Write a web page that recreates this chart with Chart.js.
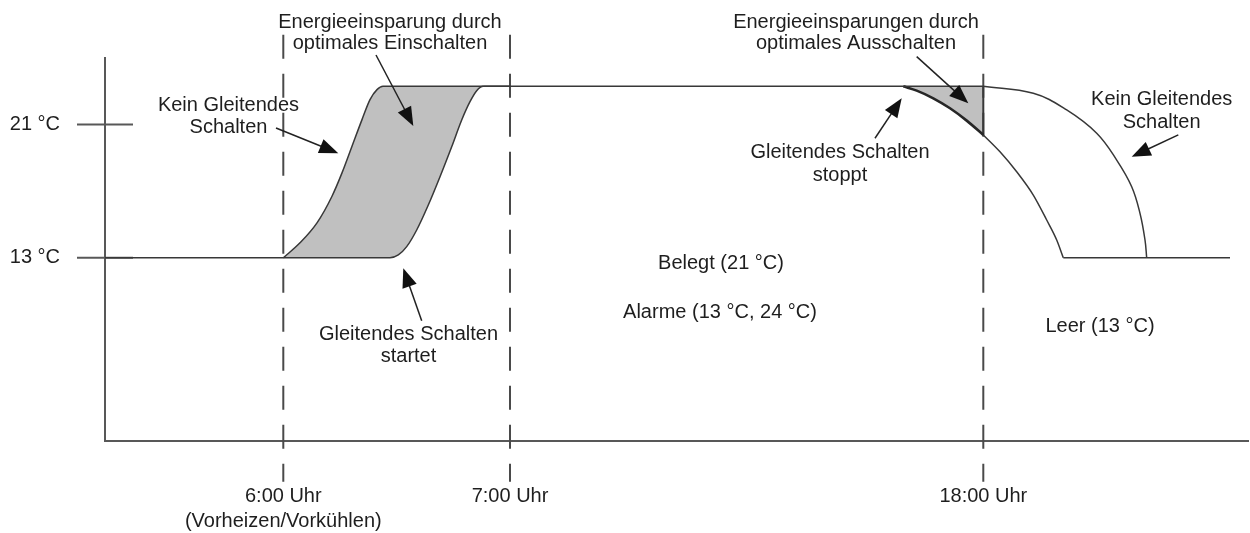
<!DOCTYPE html>
<html lang="de">
<head>
<meta charset="utf-8">
<title>Gleitendes Schalten</title>
<script src="https://cdn.jsdelivr.net/npm/chart.js@4.4.1/dist/chart.umd.min.js"></script>
<style>
  html, body { margin: 0; padding: 0; background: #fff; }
  #chart { display: block; }
</style>
</head>
<body>
<canvas id="chart" width="1250" height="533"></canvas>
<script>
// Schematic time axis: marked times and their labels
const zeitPositionen = [17.83, 40.5, 87.83];
const zeitBeschriftungen = [['6:00 Uhr', '(Vorheizen/Vorkühlen)'], '7:00 Uhr', '18:00 Uhr'];
const temperaturMarken = [13, 21];

// Temperature profiles, [time, °C]
const grundlinieLinks = [[0, 13], [17.83, 13]];
const aufheizenOhne = [[17.83, 13], [19.5, 13.9], [21.2, 15.1], [22.7, 16.7], [23.7, 18.1], [24.7, 19.7],
  [25.7, 21.3], [26.5, 22.5], [27.2, 23.1], [27.8, 23.3], [37.83, 23.3]];
const aufheizenGleitend = [[17.83, 13], [28.5, 13], [29.33, 13.17], [30.17, 13.67], [31.17, 14.67], [32.33, 16.17],
  [33.5, 17.87], [34.67, 19.67], [35.67, 21.28], [36.5, 22.38], [37.17, 23.04], [37.83, 23.3], [40.5, 23.3]];
const belegt = [[37.83, 23.3], [87.83, 23.3]];
const abkuehlenOhne = [[87.83, 23.3], [92.83, 22.88], [96.17, 21.88], [99.17, 20.48], [101.17, 18.87],
  [102.67, 17.27], [103.5, 15.67], [104.0, 14.07], [104.17, 13]];
const abschaltenGleitend = [[79.83, 23.3], [81.17, 23.04], [82.83, 22.58], [84.5, 21.98], [86.17, 21.24], [87.83, 20.38]];
const abkuehlenGleitend = [[87.83, 20.38], [89.5, 19.37], [91.17, 18.17], [92.83, 16.77], [94.17, 15.27],
  [95.17, 14.07], [95.83, 13]];
const grundlinieRechts = [[95.83, 13], [112.5, 13]];
const kante18Uhr = [[87.83, 23.3], [87.83, 20.38]];

const textFarbe = '#1e1e1e';
const linienFarbe = '#383838';
const achsenFarbe = '#585858';
const flaeche = '#c0c0c0';
const schrift = '"Liberation Sans", Arial, sans-serif';
const schriftGroesse = 20;

Chart.defaults.font.family = schrift;

const punkte = arr => arr.map(([x, y]) => ({x, y}));

function kurve(arr, extra) {
  return Object.assign({
    data: punkte(arr),
    borderColor: linienFarbe,
    borderWidth: 1.5,
    pointRadius: 0,
    fill: false,
    cubicInterpolationMode: 'monotone'
  }, extra);
}

const datasets = [
  kurve(grundlinieLinks),
  kurve(aufheizenOhne, {fill: {target: 2}, backgroundColor: flaeche}),
  kurve(aufheizenGleitend),
  kurve(belegt),
  kurve(abkuehlenOhne, {cubicInterpolationMode: 'default', tension: 0.4}),
  kurve(abschaltenGleitend, {borderWidth: 2.6, borderColor: '#262626', fill: {target: 3}, backgroundColor: flaeche}),
  kurve(abkuehlenGleitend),
  kurve(grundlinieRechts),
  kurve(kante18Uhr, {borderWidth: 2, cubicInterpolationMode: 'default'})
];

// dashed time markers, running past the plot area
zeitPositionen.forEach(x => {
  datasets.push({
    data: [{x, y: 26.4}, {x, y: -0.45}],
    borderColor: '#4a4a4a', borderWidth: 2, borderDash: [24, 15],
    pointRadius: 0, clip: false, fill: false
  });
});

// tick marks crossing the temperature axis
temperaturMarken.forEach(y => {
  datasets.push({
    data: [{x: -2.8, y}, {x: 2.8, y}],
    borderColor: achsenFarbe, borderWidth: 2,
    pointRadius: 0, clip: false, fill: false
  });
});

// callout texts and arrows, in data units
const hinweise = [
  {zeilen: ['Kein Gleitendes', 'Schalten'], x: 12.35, y: 22.24},
  {zeilen: ['Energieeinsparung durch', 'optimales Einschalten'], x: 28.5, y: 27.22, abstand: 21},
  {zeilen: ['Gleitendes Schalten', 'startet'], x: 30.35, y: 8.49},
  {zeilen: ['Energieeinsparungen durch', 'optimales Ausschalten'], x: 75.1, y: 27.22, abstand: 21},
  {zeilen: ['Gleitendes Schalten', 'stoppt'], x: 73.5, y: 19.39},
  {zeilen: ['Kein Gleitendes', 'Schalten'], x: 105.67, y: 22.58},
  {zeilen: ['Belegt (21 °C)'], x: 61.6, y: 12.77},
  {zeilen: ['Alarme (13 °C, 24 °C)'], x: 61.5, y: 9.81},
  {zeilen: ['Leer (13 °C)'], x: 99.5, y: 8.97}
];
const pfeile = [
  [17.1, 20.8, 23.33, 19.28],
  [27.1, 25.18, 30.83, 20.92],
  [31.67, 9.22, 29.83, 12.37],
  [81.17, 25.08, 86.33, 22.28],
  [77.0, 20.18, 79.67, 22.58],
  [107.33, 20.38, 102.67, 19.07]
];

function pfeil(ctx, x0, y0, x1, y1) {
  const w = Math.atan2(y1 - y0, x1 - x0);
  const c = Math.cos(w), s = Math.sin(w);
  const l = 19, b = 7.5;
  ctx.beginPath();
  ctx.moveTo(x0, y0);
  ctx.lineTo(x1 - c * l * 0.8, y1 - s * l * 0.8);
  ctx.stroke();
  ctx.beginPath();
  ctx.moveTo(x1, y1);
  ctx.lineTo(x1 - l * c + b * s, y1 - l * s - b * c);
  ctx.lineTo(x1 - l * c - b * s, y1 - l * s + b * c);
  ctx.closePath();
  ctx.fill();
}

const hinweisPlugin = {
  id: 'hinweise',
  afterDatasetsDraw(chart) {
    const {ctx, scales: {x, y}} = chart;
    ctx.save();
    ctx.fillStyle = textFarbe;
    ctx.font = schriftGroesse + 'px ' + schrift;
    ctx.textAlign = 'center';
    ctx.textBaseline = 'alphabetic';
    hinweise.forEach(h => {
      const px = x.getPixelForValue(h.x);
      const py = y.getPixelForValue(h.y);
      h.zeilen.forEach((z, i) => ctx.fillText(z, px, py + 7 + i * (h.abstand || 22.5)));
    });
    ctx.strokeStyle = '#222';
    ctx.fillStyle = '#111';
    ctx.lineWidth = 1.5;
    pfeile.forEach(([x0, y0, x1, y1]) => {
      pfeil(ctx, x.getPixelForValue(x0), y.getPixelForValue(y0), x.getPixelForValue(x1), y.getPixelForValue(y1));
    });
    ctx.restore();
  }
};

new Chart(document.getElementById('chart'), {
  type: 'line',
  data: {datasets},
  plugins: [hinweisPlugin],
  options: {
    responsive: false,
    animation: false,
    devicePixelRatio: 1,
    layout: {padding: {top: 58, right: 2, bottom: 0, left: 0}},
    plugins: {
      legend: {display: false},
      tooltip: {enabled: false},
      filler: {drawTime: 'beforeDatasetsDraw'}
    },
    scales: {
      x: {
        type: 'linear', min: 0, max: 114.3,
        grid: {display: false, drawTicks: false},
        border: {display: true, color: achsenFarbe, width: 2},
        afterBuildTicks: s => { s.ticks = zeitPositionen.map(value => ({value})); },
        afterFit: s => { s.height = 92; },
        ticks: {
          autoSkip: false, maxRotation: 0, padding: 42.5, color: textFarbe,
          font: {size: schriftGroesse, lineHeight: 1.25},
          callback: (v, i) => zeitBeschriftungen[i]
        }
      },
      y: {
        type: 'linear', min: 2, max: 25,
        grid: {display: false, drawTicks: false},
        border: {display: true, color: achsenFarbe, width: 2},
        afterBuildTicks: s => { s.ticks = temperaturMarken.map(value => ({value})); },
        afterFit: s => { s.width = 105; },
        ticks: {padding: 45, color: textFarbe, font: {size: schriftGroesse}, callback: v => v + ' °C'}
      }
    }
  }
});
</script>
</body>
</html>
